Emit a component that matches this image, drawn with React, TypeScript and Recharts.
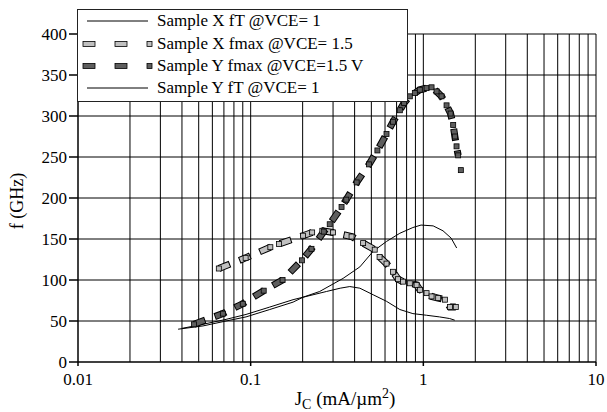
import { LineChart, Line, XAxis, YAxis, ReferenceLine, Label } from 'recharts';

// J_C values (mA/um^2) and frequencies (GHz)
const yFmaxJc = [0.047, 0.069, 0.09, 0.119, 0.153, 0.198, 0.225, 0.265, 0.287, 0.336, 0.358, 0.411, 0.485, 0.542, 0.612, 0.668, 0.731, 0.774, 0.835, 0.893, 0.954, 1.044, 1.116, 1.193, 1.275, 1.363, 1.438, 1.489, 1.523, 1.557, 1.591, 1.62, 1.649];
const yFmaxF = [46, 59, 71, 87, 100, 124, 138, 159, 168, 189, 198, 219, 241, 258, 278, 293, 307, 316, 324, 328, 332, 334, 335, 330, 324, 313, 303, 289, 275, 263, 252, null, 234];

const xFmaxJc = [0.0654, 0.0935, 0.13, 0.146, 0.201, 0.227, 0.26, 0.3, 0.384, 0.448, 0.523, 0.558, 0.612, 0.668, 0.714, 0.763, 0.835, 0.914, 0.955, 1.044, 1.116, 1.219, 1.333, 1.425, 1.542];
const xFmaxF = [114, 127, 140, 144, 154, 158, 160, 158, 153, 145, 137, 128, 120, 110, 101, 98, 96, 94, 88, 84, 80, 78, 76, 67, 67];

const yFtJc = [0.038, 0.053, 0.072, 0.094, 0.129, 0.176, 0.201, 0.251, 0.343, 0.429, 0.512, 0.612, 0.731, 0.87, 0.97, 1.14, 1.3, 1.45, 1.56];
const yFtF = [40, 44, 50, 55, 64, 73, 79, 86, 102, 116, 135, 147, 157, 164, 167, 166, 160, 151, 139];

const xFtJc = [0.04, 0.053, 0.072, 0.094, 0.129, 0.176, 0.201, 0.275, 0.33, 0.375, 0.429, 0.512, 0.612, 0.731, 0.87, 1.044, 1.24, 1.42, 1.52];
const xFtF = [41, 46, 52, 58, 67, 76, 79, 86, 90, 92, 90, 82, 74, 64, 59, 57, 55, 53, 51];

const xTicks = [0.01, 0.1, 1, 10];
const xGrid = [0.02, 0.03, 0.04, 0.05, 0.06, 0.07, 0.08, 0.09, 0.1, 0.2, 0.3, 0.4, 0.5, 0.6, 0.7, 0.8, 0.9, 1, 2, 3, 4, 5, 6, 7, 8, 9, 10];
const yTicks = [0, 50, 100, 150, 200, 250, 300, 350, 400];
const yGrid = [50, 100, 150, 200, 250, 300, 350, 400];
const yMinorTicks = [0, 10, 20, 30, 40, 50, 60, 70, 80, 90, 100, 110, 120, 130, 140, 150, 160, 170, 180, 190, 200, 210, 220, 230, 240, 250, 260, 270, 280, 290, 300, 310, 320, 330, 340, 350, 360, 370, 380, 390, 400];

const legendItems = [
  { name: 'Sample X fT @VCE= 1', kind: 'line', color: '#000' },
  { name: 'Sample X fmax @VCE= 1.5', kind: 'dash', color: '#c0c0c0' },
  { name: 'Sample Y fmax @VCE=1.5 V', kind: 'dash', color: '#5e5e5e' },
  { name: 'Sample Y fT @VCE= 1', kind: 'line', color: '#000' },
];

const toRows = (jc: number[], f: (number | null)[]) => jc.map((v, i) => ({ jc: v, f: f[i] }));

const yFmax = toRows(yFmaxJc, yFmaxF);
const xFmax = toRows(xFmaxJc, xFmaxF);
const yFt = toRows(yFtJc, yFtF);
const xFt = toRows(xFtJc, xFtF);

const FONT = '"Liberation Serif", "Times New Roman", serif';
const LIGHT = '#c0c0c0';
const DARK = '#5e5e5e';

const squareDot = (fill: string) => (props: any) => {
  const { cx, cy, index, value } = props;
  if (cx == null || cy == null || value == null) return <g key={`d-${index}`} />;
  return (
    <rect key={`d-${index}`} x={cx - 2.5} y={cy - 2.5} width={5} height={5} fill={fill} stroke="#000" strokeWidth={0.8} />
  );
};

function LegendBox() {
  return (
    <div
      style={{
        position: 'absolute',
        left: 77,
        top: 9,
        width: 331,
        height: 93,
        boxSizing: 'border-box',
        border: '1.5px solid #222',
        background: '#fff',
        fontFamily: FONT,
        fontSize: 17,
        color: '#000',
      }}
    >
      {legendItems.map((item) => (
        <div key={item.name} style={{ height: 22.4, display: 'flex', alignItems: 'center', whiteSpace: 'nowrap' }}>
          <svg width={78} height={22} style={{ flex: 'none' }}>
            {item.kind === 'line' ? (
              <line x1={9} y1={11} x2={70} y2={11} stroke="#000" strokeWidth={1} />
            ) : (
              <g stroke="#000" strokeWidth={0.8} fill={item.color}>
                <rect x={5} y={8.5} width={12} height={5} />
                <rect x={37} y={8.5} width={12} height={5} />
                <rect x={69} y={8.5} width={5} height={5} />
              </g>
            )}
          </svg>
          <span style={{ marginLeft: 1 }}>{item.name}</span>
        </div>
      ))}
    </div>
  );
}

export default function App() {
  return (
    <div style={{ position: 'absolute', left: 0, top: 0, width: 607, height: 412, background: '#fff' }}>
      <LineChart
        width={607}
        height={412}
        margin={{ top: 34, right: 11, left: 0, bottom: 0 }}
        style={{ fontFamily: FONT }}
      >
        <XAxis
          dataKey="jc"
          type="number"
          scale="log"
          domain={[0.01, 10]}
          allowDataOverflow
          ticks={xTicks}
          tickFormatter={(v: number) => String(v)}
          height={50}
          tickSize={4}
          tickMargin={7}
          stroke="#000"
          strokeWidth={1.5}
          tick={{ fontSize: 17, fill: '#000', fontFamily: FONT }}
        >
          <Label
            content={({ viewBox }: any) => {
              const cx = viewBox.x + viewBox.width / 2 + 8;
              return (
                <text x={cx} y={405} textAnchor="middle" fontSize={19} fontFamily={FONT} fill="#000">
                  J
                  <tspan fontSize={14} dy={4}>C</tspan>
                  <tspan dy={-4}> (mA/µm</tspan>
                  <tspan fontSize={14} dy={-7}>2</tspan>
                  <tspan dy={7}>)</tspan>
                </text>
              );
            }}
          />
        </XAxis>
        <YAxis
          type="number"
          domain={[0, 400]}
          ticks={yTicks}
          width={78}
          tickSize={9}
          tickMargin={2}
          stroke="#000"
          strokeWidth={1.5}
          tick={{ fontSize: 17, fill: '#000', fontFamily: FONT }}
          interval={0}
        >
          <Label
            content={() => (
              <text x={23} y={201} transform="rotate(-90 23 201)" textAnchor="middle" fontSize={18} fontFamily={FONT} fill="#000">
                f (GHz)
              </text>
            )}
          />
        </YAxis>
        <YAxis
          yAxisId="minor"
          type="number"
          domain={[0, 400]}
          allowDataOverflow
          ticks={yMinorTicks}
          orientation="left"
          mirror
          width={0}
          axisLine={false}
          tickFormatter={() => ''}
          tickSize={3}
          tickLine={{ stroke: '#000', strokeWidth: 1 }}
          interval={0}
        />

        {xGrid.map((v) => (
          <ReferenceLine key={`gx-${v}`} x={v} stroke="#000" strokeWidth={1} ifOverflow="visible" />
        ))}
        {yGrid.map((v) => (
          <ReferenceLine key={`gy-${v}`} y={v} stroke="#000" strokeWidth={1} ifOverflow="visible" />
        ))}

        <Line data={xFt} dataKey="f" stroke="#000" strokeWidth={1} dot={false} isAnimationActive={false} />
        <Line data={yFt} dataKey="f" yAxisId="minor" stroke="#000" strokeWidth={1} dot={false} isAnimationActive={false} />

        <Line data={xFmax} dataKey="f" stroke="#000" strokeWidth={7} strokeDasharray="12 10" dot={false} isAnimationActive={false} />
        <Line data={xFmax} dataKey="f" stroke={LIGHT} strokeWidth={5} strokeDasharray="10 12" strokeDashoffset={-1} dot={squareDot(LIGHT)} isAnimationActive={false} />

        <Line data={yFmax} dataKey="f" stroke="#000" strokeWidth={7} strokeDasharray="12 10" dot={false} isAnimationActive={false} />
        <Line data={yFmax} dataKey="f" stroke={DARK} strokeWidth={5} strokeDasharray="10 12" strokeDashoffset={-1} dot={squareDot(DARK)} isAnimationActive={false} />
      </LineChart>
      <LegendBox />
    </div>
  );
}
